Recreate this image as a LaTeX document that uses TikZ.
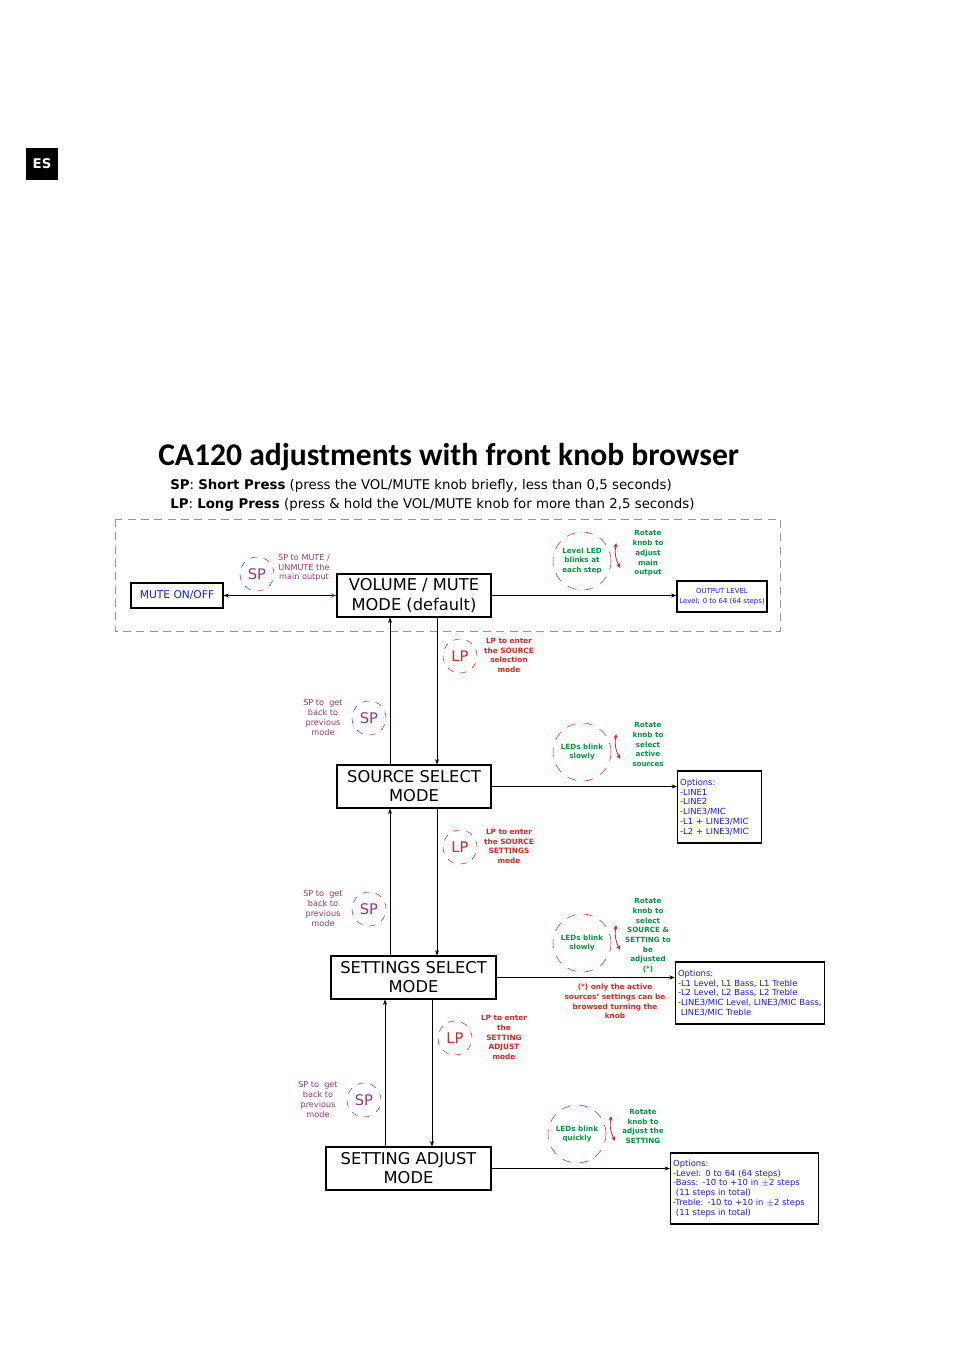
\documentclass[tikz,border=0pt]{standalone}
\usepackage{fontspec}
\setmainfont{DejaVu Sans}
\newfontfamily\titlefont{Carlito}
\usetikzlibrary{arrows.meta,calc}
\definecolor{spcol}{RGB}{150,55,120}
\definecolor{lpcol}{RGB}{225,35,35}
\definecolor{rotcol}{RGB}{0,150,60}
\definecolor{optcol}{RGB}{25,25,230}
\definecolor{framecol}{RGB}{150,150,150}
\begin{document}
\begin{tikzpicture}[x=0.75pt,y=-0.75pt,
  arr/.style={-{Stealth[length=4pt,width=3pt]},line width=0.6pt},
  modebox/.style={draw,line width=0.8pt,align=center,inner sep=0pt,minimum height=32.25pt,font=\fontsize{12.2}{14.3}\selectfont},
  optbox/.style={draw,line width=0.8pt,align=left,inner sep=2pt,text=optcol,font=\fontsize{6.3}{7.3}\selectfont},
  spcirc/.style={circle,draw=spcol,dash pattern=on 5pt off 5pt,text=spcol,minimum size=25.5pt,inner sep=0pt,font=\fontsize{11}{11}\selectfont},
  lpcirc/.style={spcirc,draw=lpcol,text=lpcol},
  ledcirc/.style={circle,draw=lpcol,dash pattern=on 7pt off 6pt,text=rotcol,minimum size=43.5pt,inner sep=0pt,align=center,font=\fontsize{5.4}{7.3}\selectfont\bfseries},
  splabel/.style={text=spcol,align=center,inner sep=0pt,font=\fontsize{6.1}{7.3}\selectfont},
  lplabel/.style={text=lpcol,align=center,inner sep=0pt,font=\fontsize{5.5}{7.3}\selectfont\bfseries},
  rotlabel/.style={text=rotcol,align=center,inner sep=0pt,font=\fontsize{5.4}{7.3}\selectfont\bfseries},
  knobarr/.style={{Stealth[length=3.5pt,width=3pt]}-{Stealth[length=3.5pt,width=3pt]},draw=lpcol,line width=0.6pt}]
\useasboundingbox (0,0) rectangle (954,1351);
\node[fill=black,text=white,minimum size=24pt,inner sep=0pt,font=\bfseries\fontsize{10}{10}\selectfont] (es) at (42,164) {ES};
\node[anchor=base west,inner sep=0pt,font=\titlefont\bfseries\fontsize{23.7}{24}\selectfont] (title) at (158,465) {CA120 adjustments with front knob browser};
\node[anchor=west,inner sep=0pt,font=\fontsize{10}{11}\selectfont] (sp) at (170,486) {\textbf{SP}: \textbf{Short Press} (press the VOL/MUTE knob briefly, less than 0,5 seconds)};
\node[anchor=west,inner sep=0pt,font=\fontsize{10}{11}\selectfont] (lp) at (170,505) {\textbf{LP}: \textbf{Long Press} (press \& hold the VOL/MUTE knob for more than 2,5 seconds)};
\draw[framecol,line width=0.6pt,dash pattern=on 6pt off 4pt] (115,519) rectangle (780,631);

% modes
\node[modebox,minimum width=115.5pt] (vol) at (414,595.5) {VOLUME / MUTE\\MODE (default)};
\node[modebox,minimum width=115.5pt] (src) at (414,786.5) {SOURCE SELECT\\MODE};
\node[modebox,minimum width=123.75pt] (set) at (413.5,977.5) {SETTINGS SELECT\\MODE};
\node[modebox,minimum width=123.75pt] (adj) at (408.5,1168.5) {SETTING ADJUST\\MODE};

% results
\node[optbox,align=center,minimum width=69pt,minimum height=18.75pt,font=\fontsize{8}{9}\selectfont] (mute) at (177,595.5) {MUTE ON/OFF};
\node[optbox,align=center,minimum width=67.5pt,minimum height=23.25pt,inner sep=1pt,font=\fontsize{5.2}{7}\selectfont] (out) at (722,596.5) {OUTPUT LEVEL\\Level: 0 to 64 (64 steps)};
\node[optbox,text width=59pt,minimum height=54pt] (opt1) at (719.5,807) {Options:\\-LINE1\\-LINE2\\-LINE3/MIC\\-L1 + LINE3/MIC\\-L2 + LINE3/MIC};
\node[optbox,text width=108pt,minimum height=46.5pt] (opt2) at (750,993) {Options:\\-L1 Level, L1 Bass, L1 Treble\\-L2 Level, L2 Bass, L2 Treble\\-LINE3/MIC Level, LINE3/MIC Bass,\\\ LINE3/MIC Treble};
\node[optbox,text width=107pt,minimum height=53.25pt] (opt3) at (744.5,1188.5) {Options:\\-Level: 0 to 64 (64 steps)\\-Bass: -10 to +10 in $\pm$2 steps\\\ (11 steps in total)\\-Treble: -10 to +10 in $\pm$2 steps\\\ (11 steps in total)};

% connectors
\draw[{Stealth[length=4pt,width=3pt,color=spcol]}-{Stealth[length=4pt,width=3pt]},line width=0.6pt] (vol.west) -- (mute.east);
\draw[arr] (vol.east) -- (vol.east -| out.west);
\draw[arr] (src.east) -- (src.east -| opt1.west);
\draw[arr] (set.east) -- (set.east -| opt2.west);
\draw[arr] (adj.east) -- (adj.east -| opt3.west);
\draw[arr] ($(vol.south)+(23,0)$) -- ($(src.north)+(23,0)$);
\draw[arr] ($(src.north)+(-24,0)$) -- ($(vol.south)+(-24,0)$);
\draw[arr] ($(src.south)+(23,0)$) -- ($(set.north)+(23.5,0)$);
\draw[arr] ($(set.north)+(-23.5,0)$) -- ($(src.south)+(-24,0)$);
\draw[arr] ($(set.south)+(18.5,0)$) -- ($(adj.north)+(23.5,0)$);
\draw[arr] ($(adj.north)+(-23.5,0)$) -- ($(set.south)+(-28.5,0)$);

% presses
\node[spcirc] (sp0) at (257,574) {SP};
\node[splabel] (sp0l) at (304,568) {SP to MUTE /\\UNMUTE the\\main output};
\node[lpcirc] (lp1) at (460,656) {LP};
\node[lplabel] (lp1l) at (509,655.5) {LP to enter\\the SOURCE\\selection\\mode};
\node[spcirc] (sp1) at (369,718) {SP};
\node[splabel] (sp1l) at (323,717.5) {SP to\ \ get\\back to\\previous\\mode};
\node[lpcirc] (lp2) at (460,847) {LP};
\node[lplabel] (lp2l) at (509,846.5) {LP to enter\\the SOURCE\\SETTINGS\\mode};
\node[spcirc] (sp2) at (369,909) {SP};
\node[splabel] (sp2l) at (323,908.5) {SP to\ \ get\\back to\\previous\\mode};
\node[lpcirc] (lp3) at (455,1038) {LP};
\node[lplabel] (lp3l) at (504,1037.5) {LP to enter\\the\\SETTING\\ADJUST\\mode};
\node[spcirc] (sp3) at (364,1100) {SP};
\node[splabel] (sp3l) at (318,1099.5) {SP to\ \ get\\back to\\previous\\mode};

% knob rotation
\node[ledcirc] (led0) at (582,561) {Level LED\\blinks at\\each step};
\node[rotlabel] (rot0) at (648,553.5) {Rotate\\knob to\\adjust\\main\\output};
\node[ledcirc] (led1) at (582,752) {LEDs blink\\slowly};
\node[rotlabel] (rot1) at (648,744.5) {Rotate\\knob to\\select\\active\\sources};
\node[ledcirc] (led2) at (582,943) {LEDs blink\\slowly};
\node[rotlabel] (rot2) at (648,935.5) {Rotate\\knob to\\select\\SOURCE \&\\SETTING to\\be\\adjusted\\(*)};
\node[ledcirc] (led3) at (577,1134) {LEDs blink\\quickly};
\node[rotlabel] (rot3) at (643,1126.5) {Rotate\\knob to\\adjust the\\SETTING};
\foreach \n in {0,...,3}
  \draw[knobarr] ($(led\n.east)+(5,-18)$) to[bend right=20] ($(led\n.east)+(9,7)$);
\node[lplabel] (note) at (615,1001.5) {(*) only the active\\sources' settings can be\\browsed turning the\\knob};
\end{tikzpicture}
\end{document}
